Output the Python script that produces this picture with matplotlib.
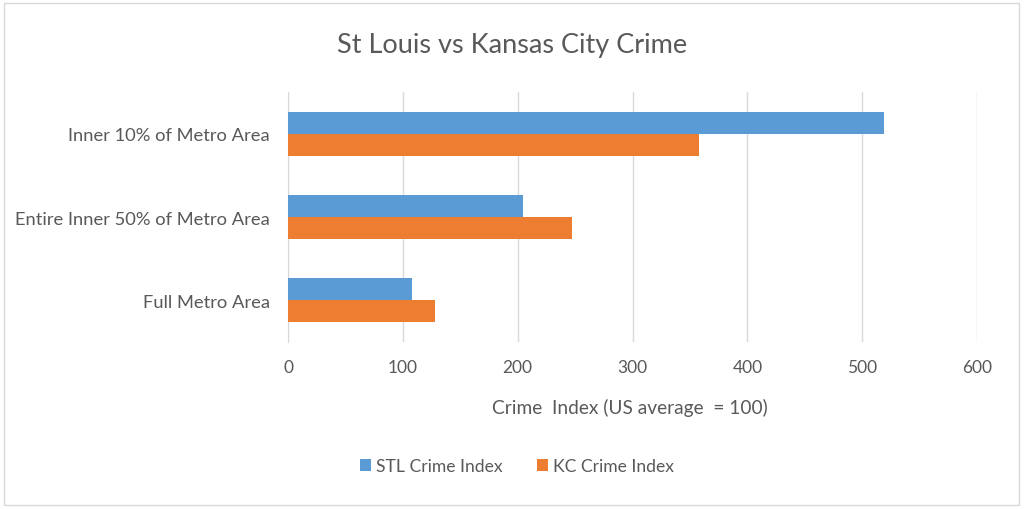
import matplotlib
matplotlib.use("Agg")
import matplotlib.pyplot as plt
import numpy as np
from matplotlib.patches import Rectangle

categories = ["Inner 10% of Metro Area", "Entire Inner 50% of Metro Area", "Full Metro Area"]
stl_values = [519, 205, 108]
kc_values = [358, 247, 128]
series_names = ["STL Crime Index", "KC Crime Index"]
x_ticks = [0, 100, 200, 300, 400, 500, 600]

title = "St Louis vs Kansas City Crime"
xlabel = "Crime  Index (US average  = 100)"

plt.rcParams['font.family'] = ['Lato', 'DejaVu Sans']
text_color = "#595959"
blue = "#5b9bd5"
orange = "#ed7d31"

fig = plt.figure(figsize=(10.24, 5.10), dpi=100)
fig.patches.append(Rectangle((0.004, 0.008), 0.991, 0.985, transform=fig.transFigure,
                             fill=False, edgecolor="#d9d9d9", linewidth=1.0))

ax = fig.add_axes([0.28125, 0.3275, 0.673, 0.49])
y = np.arange(len(categories))
h = 0.265
ax.barh(y - h / 2, stl_values, height=h, color=blue, label=series_names[0], zorder=3)
ax.barh(y + h / 2, kc_values, height=h, color=orange, label=series_names[1], zorder=3)

ax.set_ylim(len(categories) - 0.5, -0.5)
ax.set_xlim(0, 600)
ax.set_xticks(x_ticks)
ax.set_xticklabels([str(t) for t in x_ticks], fontsize=12.5, color=text_color)
ax.set_yticks(y)
ax.set_yticklabels(categories, fontsize=13.2, color=text_color)
ax.tick_params(axis='both', length=0)
ax.tick_params(axis='x', pad=12)
ax.tick_params(axis='y', pad=13)
ax.grid(axis='x', color="#d9d9d9", linewidth=1.0, zorder=0)
for s in ["top", "right", "bottom"]:
    ax.spines[s].set_visible(False)
ax.spines["left"].set_color("#d9d9d9")

fig.text(0.5, 0.91, title, ha="center", va="center", fontsize=19.5, color=text_color)
fig.text(0.615, 0.20, xlabel, ha="center", va="center", fontsize=13.8, color=text_color)

leg = fig.legend(loc="center", bbox_to_anchor=(0.505, 0.084), ncol=2, frameon=False,
                 fontsize=12.6, handlelength=0.6, handleheight=0.6, handletextpad=0.3,
                 columnspacing=2.0)
for t in leg.get_texts():
    t.set_color(text_color)

fig.savefig("out.png", dpi=100, facecolor="white")
